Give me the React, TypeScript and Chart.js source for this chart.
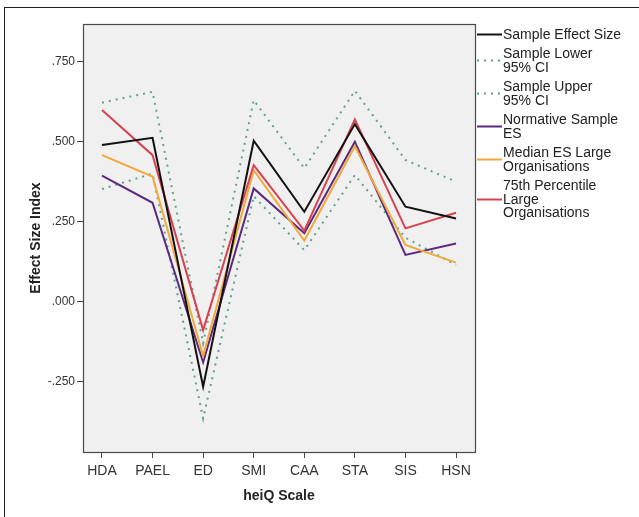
import React, { useEffect, useRef } from "react";
import { Chart, registerables } from "chart.js";

Chart.register(...registerables);

const categories = ["HDA", "PAEL", "ED", "SMI", "CAA", "STA", "SIS", "HSN"];
const sampleES = [0.49, 0.512, -0.266, 0.503, 0.281, 0.555, 0.297, 0.26];
const sampleLower = [0.352, 0.4, -0.365, 0.33, 0.161, 0.396, 0.2, 0.115];
const sampleUpper = [0.622, 0.656, -0.13, 0.63, 0.417, 0.659, 0.443, 0.375];
const normativeES = [0.394, 0.309, -0.19, 0.354, 0.214, 0.5, 0.146, 0.182];
const medianLarge = [0.458, 0.391, -0.17, 0.411, 0.191, 0.486, 0.177, 0.122];
const p75Large = [0.599, 0.458, -0.089, 0.427, 0.222, 0.57, 0.229, 0.278];
const yTickValues = [-0.25, 0, 0.25, 0.5, 0.75];
const yTickLabels = ["-.250", ".000", ".250", ".500", ".750"];
const seriesLabels = [
  "Sample Effect Size",
  "Sample Lower 95% CI",
  "Sample Upper 95% CI",
  "Normative Sample ES",
  "Median ES Large Organisations",
  "75th Percentile Large Organisations",
];
const legendLines = [
  ["Sample Effect Size"],
  ["Sample Lower", "95% CI"],
  ["Sample Upper", "95% CI"],
  ["Normative Sample", "ES"],
  ["Median ES Large", "Organisations"],
  ["75th Percentile", "Large", "Organisations"],
];

const FONT = "'Liberation Sans', Arial, sans-serif";

const framePlugin = {
  id: "framePlugin",
  beforeDraw(chart: any) {
    const { ctx, chartArea } = chart;
    ctx.save();
    ctx.fillStyle = "#ffffff";
    ctx.fillRect(0, 0, chart.width, chart.height);
    ctx.fillStyle = "#f0f0f0";
    ctx.fillRect(chartArea.left, chartArea.top, chartArea.right - chartArea.left, chartArea.bottom - chartArea.top);
    ctx.strokeStyle = "#222";
    ctx.lineWidth = 1;
    ctx.strokeRect(4.5, 7.5, 800, 700);
    ctx.restore();
  },
  afterDraw(chart: any) {
    const { ctx, chartArea } = chart;
    ctx.save();
    ctx.strokeStyle = "#4a4a4a";
    ctx.lineWidth = 1.2;
    ctx.strokeRect(chartArea.left + 0.5, chartArea.top + 0.5, chartArea.right - chartArea.left, chartArea.bottom - chartArea.top);
    // legend
    const lh = 13.5;
    const gap = 6;
    let y = 35;
    ctx.font = "14px " + FONT;
    ctx.textBaseline = "middle";
    ctx.textAlign = "left";
    chart.data.datasets.forEach((ds: any, i: number) => {
      const lines = legendLines[i];
      const startY = y;
      lines.forEach((t: string, k: number) => {
        ctx.fillStyle = "#222";
        ctx.fillText(t, 503, y + k * lh);
      });
      const endY = y + (lines.length - 1) * lh;
      const my = Math.round((startY + endY) / 2 - 1) + 0.5;
      ctx.strokeStyle = ds.borderColor;
      ctx.lineWidth = ds.borderWidth;
      ctx.setLineDash(ds.borderDash || []);
      ctx.beginPath();
      ctx.moveTo(477, my);
      ctx.lineTo(502, my);
      ctx.stroke();
      ctx.setLineDash([]);
      y = endY + lh + gap;
    });
    ctx.restore();
  },
};

export default function App() {
  const ref = useRef<HTMLCanvasElement>(null);
  useEffect(() => {
    if (!ref.current) return;
    const mk = (vals: number[]) => vals.map((v, i) => ({ x: i, y: v }));
    const dotted = "#62a08a";
    const chart = new Chart(ref.current, {
      type: "line",
      data: {
        datasets: [
          { label: seriesLabels[0], data: mk(sampleES), borderColor: "#111111", borderWidth: 2, order: 1 },
          { label: seriesLabels[1], data: mk(sampleLower), borderColor: dotted, borderWidth: 2, borderDash: [2, 5], order: 6 },
          { label: seriesLabels[2], data: mk(sampleUpper), borderColor: dotted, borderWidth: 2, borderDash: [2, 5], order: 5 },
          { label: seriesLabels[3], data: mk(normativeES), borderColor: "#5b2a80", borderWidth: 2, order: 4 },
          { label: seriesLabels[4], data: mk(medianLarge), borderColor: "#f2a93b", borderWidth: 2, order: 3 },
          { label: seriesLabels[5], data: mk(p75Large), borderColor: "#d8424f", borderWidth: 2, order: 2 },
        ] as any,
      },
      options: {
        animation: false,
        responsive: false,
        devicePixelRatio: 1,
        elements: { point: { radius: 0 }, line: { tension: 0 } },
        layout: { padding: { left: 0, top: 24, right: 164, bottom: 0 } },
        plugins: { legend: { display: false }, tooltip: { enabled: false } },
        scales: {
          x: {
            type: "linear",
            min: -0.375,
            max: 7.375,
            afterBuildTicks: (s: any) => {
              s.ticks = categories.map((_, i) => ({ value: i }));
            },
            afterFit: (s: any) => {
              s.height = 65;
            },
            ticks: {
              autoSkip: false,
              maxRotation: 0,
              padding: 5,
              color: "#333",
              font: { family: FONT, size: 14 },
              callback: (v: any) => categories[v as number] ?? "",
            },
            grid: { display: true, drawOnChartArea: false, drawTicks: true, tickLength: 6, color: "#4a4a4a" },
            border: { display: true, color: "#4a4a4a" },
            title: {
              display: true,
              text: "heiQ Scale",
              color: "#222",
              font: { family: FONT, size: 14, weight: "bold" },
              padding: { top: 0, bottom: 12 },
            },
          },
          y: {
            min: -0.47,
            max: 0.868,
            afterBuildTicks: (s: any) => {
              s.ticks = yTickValues.map((v) => ({ value: v }));
            },
            afterFit: (s: any) => {
              s.width = 83;
            },
            ticks: {
              padding: 2,
              color: "#333",
              font: { family: FONT, size: 12 },
              callback: (v: any) => {
                const idx = yTickValues.findIndex((t) => Math.abs(t - v) < 1e-9);
                return idx >= 0 ? yTickLabels[idx] : "";
              },
            },
            grid: { display: true, drawOnChartArea: false, drawTicks: true, tickLength: 6, color: "#4a4a4a" },
            border: { display: true, color: "#4a4a4a" },
            title: {
              display: true,
              text: "Effect Size Index",
              color: "#222",
              font: { family: FONT, size: 14, weight: "bold" },
              padding: { top: 28, bottom: 0 },
            },
          },
        },
      },
      plugins: [framePlugin],
    });
    return () => chart.destroy();
  }, []);
  return (
    <div style={{ position: "fixed", left: 0, top: 0, width: 639, height: 517, background: "#fff" }}>
      <canvas ref={ref} width={639} height={517} style={{ display: "block" }} />
    </div>
  );
}
